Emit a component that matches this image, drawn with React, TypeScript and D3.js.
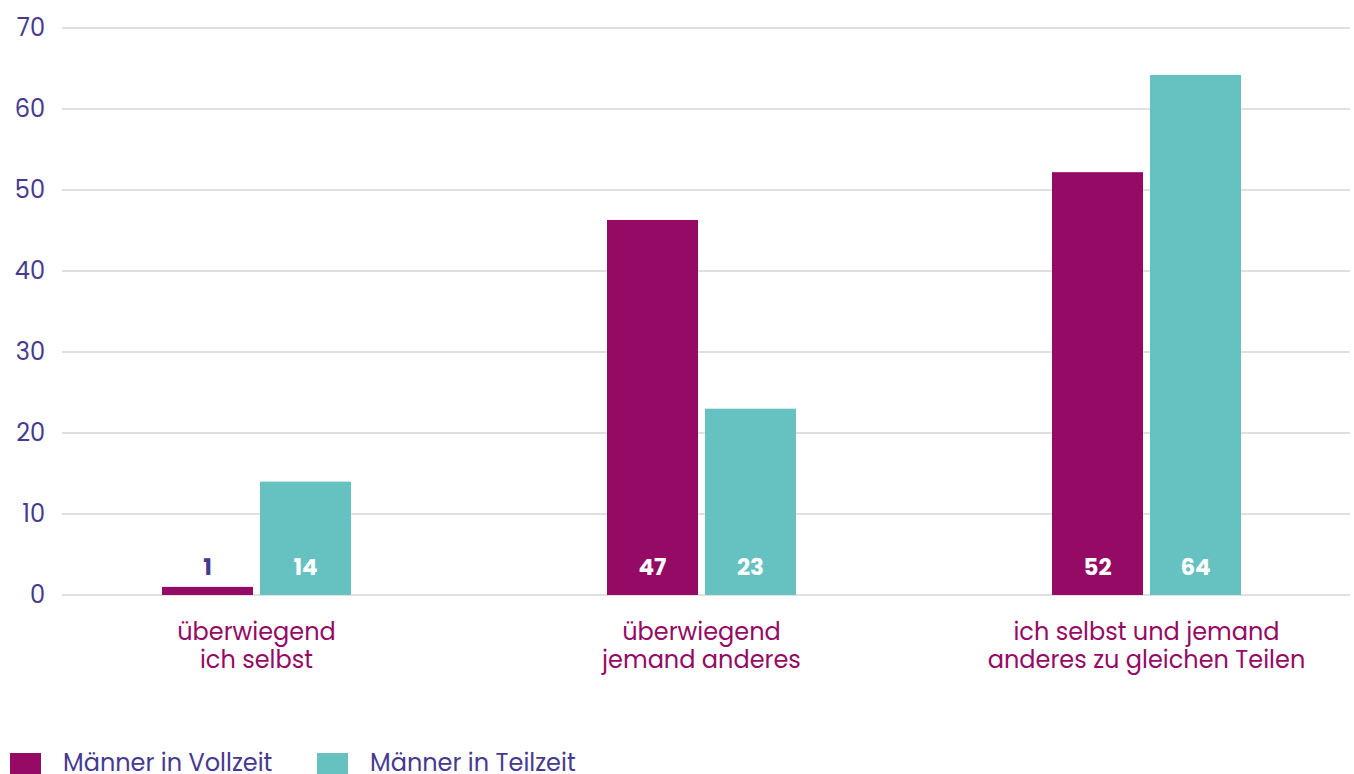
import React from "react";
import * as d3 from "d3";

const categories: string[][] = [
  ["überwiegend", "ich selbst"],
  ["überwiegend", "jemand anderes"],
  ["ich selbst und jemand", "anderes zu gleichen Teilen"],
];
const seriesNames = ["Männer in Vollzeit", "Männer in Teilzeit"];
const fullTimeValues = [1, 46.3, 52.2];
const fullTimeLabels = ["1", "47", "52"];
const partTimeValues = [14, 23, 64.2];
const partTimeLabels = ["14", "23", "64"];
const yTicks = [0, 10, 20, 30, 40, 50, 60, 70];

const W = 1354;
const H = 774;
const MAGENTA = "#950a64";
const TEAL = "#66c1c1";
const INDIGO = "#463a8f";
const FONT = "Poppins, 'Open Sans', sans-serif";

export default function App() {
  const y = d3.scaleLinear().domain([0, 70]).range([595, 28]);
  const x0 = d3.scaleBand<number>().domain([0, 1, 2]).range([34, 1369]);
  const x1 = d3.scaleBand<number>().domain([0, 1]).range([-94.5, 94.5]).paddingInner(0.0714);
  const series = [
    { name: seriesNames[0], values: fullTimeValues, labels: fullTimeLabels, color: MAGENTA },
    { name: seriesNames[1], values: partTimeValues, labels: partTimeLabels, color: TEAL },
  ];
  return (
    <svg width={W} height={H} style={{ position: "absolute", left: 0, top: 0 }} fontFamily={FONT}>
      {yTicks.map((t) => (
        <g key={t}>
          <line x1={62} x2={1350} y1={y(t)} y2={y(t)} stroke="#d6d6d6" strokeWidth={1.3} />
          <text x={45} y={y(t)} dy="0.35em" textAnchor="end" fontSize={24} fill={INDIGO}>
            {t}
          </text>
        </g>
      ))}
      {categories.map((c, i) => {
        const cx = x0(i)! + x0.bandwidth() / 2;
        return (
          <g key={i}>
            {series.map((s, j) => {
              const bx = cx + x1(j)!;
              const bw = x1.bandwidth();
              const top = y(s.values[i]);
              const h = y(0) - top;
              const inside = h > 30;
              return (
                <g key={j}>
                  <rect x={bx} y={top} width={bw} height={h} fill={s.color} />
                  <text
                    x={bx + bw / 2}
                    y={575}
                    textAnchor="middle"
                    fontSize={23}
                    fontWeight={700}
                    fill={inside ? "#ffffff" : INDIGO}
                  >
                    {s.labels[i]}
                  </text>
                </g>
              );
            })}
            {c.map((line, k) => (
              <text key={k} x={cx} y={640 + k * 28} textAnchor="middle" fontSize={24} fill={MAGENTA}>
                {line}
              </text>
            ))}
          </g>
        );
      })}
      {series.map((s, j) => {
        const lx = j === 0 ? 10 : 317;
        return (
          <g key={j}>
            <rect x={lx} y={753} width={31} height={22} fill={s.color} />
            <text x={lx + 53} y={771} fontSize={24} fill={INDIGO}>
              {s.name}
            </text>
          </g>
        );
      })}
    </svg>
  );
}
